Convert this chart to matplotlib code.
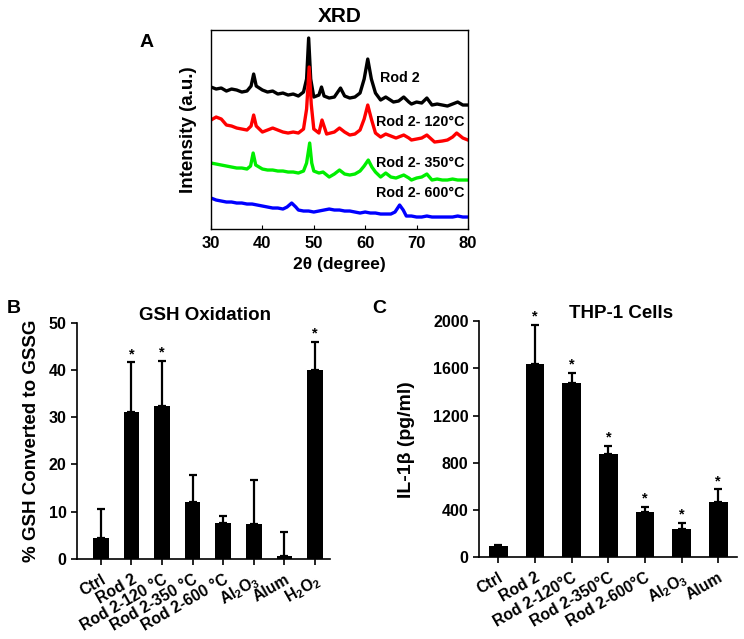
import matplotlib
matplotlib.use("Agg")
import matplotlib.pyplot as plt
import numpy as np

plt.rcParams["font.family"] = ["Liberation Sans", "DejaVu Sans"]
plt.rcParams["font.weight"] = "bold"
plt.rcParams["mathtext.fontset"] = "custom"
plt.rcParams["mathtext.rm"] = "Liberation Sans:bold"
plt.rcParams["mathtext.bf"] = "Liberation Sans:bold"
plt.rcParams["axes.linewidth"] = 1.0

# ---- A: XRD (интенсивность в у.е.)
rod2_x = [30, 31, 32, 33, 34, 35, 36, 37, 37.8, 38.3, 38.8, 40, 41, 42, 43, 44, 45, 46, 47, 48,
          48.6, 49.0, 49.4, 50, 51, 51.5, 52, 53, 54, 55.2, 56, 57, 58, 59, 59.8, 60.5, 61.2, 62,
          63, 64, 65.5, 66.5, 67.5, 68.5, 69, 70, 71, 72, 73, 74, 75, 76, 77, 78, 79, 80]
rod2_y = [142, 140, 141, 138, 140, 139, 137, 138, 143, 155, 143, 139, 137, 138, 135, 136, 134, 135, 133, 137,
          150, 191, 150, 132, 134, 142, 133, 131, 132, 141, 133, 131, 132, 136, 150, 170, 150, 136,
          129, 132, 127, 128, 132, 127, 125, 127, 126, 131, 124, 125, 124, 123, 125, 127, 124, 124]

r120_x = [30, 31, 32, 33, 34, 35, 36, 37, 37.8, 38.3, 38.8, 40, 41, 42, 43, 44, 45, 46, 47, 48,
          48.6, 49.1, 49.5, 50, 51, 51.6, 52.5, 54, 55, 56, 57, 58, 59, 59.8, 60.5, 61.2, 62,
          63, 64, 65, 66, 67.5, 68.5, 69, 70, 71, 72, 73.5, 75, 76, 77, 77.8, 79, 80]
r120_y = [109, 112, 110, 104, 103, 101, 100, 99, 103, 114, 103, 97, 99, 101, 99, 97, 96, 97, 96, 100,
          120, 162, 125, 100, 96, 109, 95, 97, 101, 97, 94, 95, 99, 110, 124, 110, 96,
          92, 95, 93, 91, 94, 91, 89, 90, 91, 94, 87, 88, 89, 92, 96, 91, 89]

r350_x = [30, 31, 32, 33, 34, 35, 36, 37, 37.7, 38.2, 38.7, 40, 41, 42, 43, 44, 45, 46, 47, 48,
          48.6, 49.2, 49.6, 50, 51, 51.8, 53, 54, 55, 56, 57, 58, 59, 59.8, 60.6, 61.3, 62,
          63, 64, 65, 66, 67.5, 68.5, 69, 70, 71, 72, 73, 74, 75, 76, 77, 78, 79, 80]
r350_y = [66, 65, 64, 63, 62, 61, 61, 60, 63, 76, 64, 60, 59, 59, 58, 58, 57, 57, 56, 58,
          66, 86, 66, 58, 56, 57, 52, 55, 59, 55, 54, 55, 58, 63, 69, 62, 57,
          52, 56, 52, 51, 54, 51, 49, 51, 52, 55, 49, 50, 49, 49, 50, 49, 49, 49]

r600_x = [30, 31, 32, 33, 34, 35, 36, 37, 38, 39, 40, 41, 42, 43, 44, 44.8, 45.7, 46.5, 47, 48,
          49, 50, 51, 52, 53, 54, 55, 56, 57, 58, 59, 60, 61, 62, 63, 64, 65, 65.8, 66.7, 67.4,
          68, 69, 70, 71, 72, 73, 74, 75, 76, 77, 78, 79, 80]
r600_y = [31, 29, 28, 27, 27, 26, 26, 25, 25, 24, 23, 22, 21, 21, 20, 22, 26, 22, 19, 18,
          18, 17, 18, 19, 20, 19, 19, 18, 18, 17, 16, 17, 16, 16, 15, 15, 15, 17, 24, 19,
          13, 13, 12, 12, 13, 12, 12, 12, 12, 12, 13, 12, 12]

xrd_labels = ["Rod 2", "Rod 2- 120°C", "Rod 2- 350°C", "Rod 2- 600°C"]
xrd_label_pos = [(66.8, 151), (70.7, 107), (70.7, 66), (70.7, 36)]
xrd_colors = ["black", "#ff0000", "#00ee00", "#0000ff"]

# ---- B: окисление GSH
gsh_cats = ["Ctrl", "Rod 2", "Rod 2-120 °C", "Rod 2-350 °C", "Rod 2-600 °C",
            r"$\mathbf{Al_2O_3}$", "Alum", r"$\mathbf{H_2O_2}$"]
gsh_vals = [4.4, 31.1, 32.3, 12.0, 7.7, 7.5, 0.6, 40.0]
gsh_err_top = [10.5, 41.6, 41.9, 17.7, 9.1, 16.8, 5.8, 46.0]
gsh_star = [False, True, True, False, False, False, False, True]

# ---- C: клетки THP-1
il_cats = ["Ctrl", "Rod 2", "Rod 2-120°C", "Rod 2-350°C", "Rod 2-600°C",
           r"$\mathbf{Al_2O_3}$", "Alum"]
il_vals = [100, 1640, 1472, 877, 386, 237, 471]
il_err_top = [108, 1966, 1562, 945, 429, 293, 575]
il_star = [False, True, True, True, True, True, True]

fig = plt.figure(figsize=(7.44, 6.39), dpi=100)

# ---------------- Panel A
axA = fig.add_axes([0.2836, 0.6416, 0.3454, 0.3114])
for xs, ys, c in zip([rod2_x, r120_x, r350_x, r600_x],
                     [rod2_y, r120_y, r350_y, r600_y], xrd_colors):
    axA.plot(xs, ys, color=c, linewidth=2.4)
for lab, (lx, ly) in zip(xrd_labels, xrd_label_pos):
    axA.text(lx, ly, lab, ha="center", va="center", fontsize=10.3, fontweight="bold")
axA.set_xlim(30, 80)
axA.set_ylim(0, 199)
axA.set_xticks([30, 40, 50, 60, 70, 80])
axA.set_yticks([])
axA.tick_params(axis="x", direction="in", length=3, labelsize=12, pad=5)
axA.set_xlabel("2θ (degree)", fontsize=12.5, fontweight="bold", labelpad=4)
axA.set_ylabel("Intensity (a.u.)", fontsize=13.5, fontweight="bold", labelpad=10)
axA.set_title("XRD", fontsize=15, fontweight="bold", pad=6)
fig.text(0.197, 0.933, "A", fontsize=14, fontweight="bold", ha="center", va="center")


def bar_panel(ax, cats, vals, err_top, stars, ymax, yticks, xlim):
    pos = np.arange(len(cats))
    err = [np.zeros(len(vals)), np.array(err_top) - np.array(vals)]
    ax.bar(pos, vals, width=0.51, color="black", yerr=err,
           error_kw=dict(ecolor="black", elinewidth=1.6, capsize=2.6, capthick=1.6))
    for i, s in enumerate(stars):
        if s:
            ax.annotate("*", (pos[i], err_top[i]), xytext=(0, 1), textcoords="offset points",
                        ha="center", va="bottom", fontsize=10.5, fontweight="bold",
                        annotation_clip=False)
    ax.set_xlim(*xlim)
    ax.set_ylim(0, ymax)
    ax.set_yticks(yticks)
    ax.set_xticks(pos)
    ax.set_xticklabels(cats, rotation=30, ha="right", va="top", rotation_mode="anchor",
                       fontsize=11.3, fontweight="bold")
    ax.spines["top"].set_visible(False)
    ax.spines["right"].set_visible(False)
    ax.spines["left"].set_linewidth(1.2)
    ax.spines["bottom"].set_linewidth(1.2)
    ax.tick_params(axis="both", direction="out", length=4, width=1.2)
    ax.tick_params(axis="x", pad=5)
    ax.tick_params(axis="y", labelsize=11.5)
    for t in ax.get_yticklabels():
        t.set_fontweight("bold")


# ---------------- Panel B
axB = fig.add_axes([0.1035, 0.1252, 0.34, 0.3698])
bar_panel(axB, gsh_cats, gsh_vals, gsh_err_top, gsh_star, 50, [0, 10, 20, 30, 40, 50],
          (-0.78, 7.49))
axB.set_ylabel("% GSH Converted to GSSG", fontsize=13.5, fontweight="bold", labelpad=6)
axB.text(0.506, 0.995, "GSH Oxidation", transform=axB.transAxes, ha="center", va="bottom",
         fontsize=13.5, fontweight="bold")
fig.text(0.019, 0.517, "B", fontsize=14, fontweight="bold", ha="center", va="center")

# ---------------- Panel C
axC = fig.add_axes([0.6438, 0.1278, 0.3462, 0.3699])
bar_panel(axC, il_cats, il_vals, il_err_top, il_star, 2000, [0, 400, 800, 1200, 1600, 2000],
          (-0.53, 6.5))
axC.set_ylabel("IL-1β (pg/ml)", fontsize=14, fontweight="bold", labelpad=13)
axC.text(0.553, 0.995, "THP-1 Cells", transform=axC.transAxes, ha="center", va="bottom",
         fontsize=13.5, fontweight="bold")
fig.text(0.51, 0.517, "C", fontsize=14, fontweight="bold", ha="center", va="center")

fig.savefig("out.png", dpi=100)
